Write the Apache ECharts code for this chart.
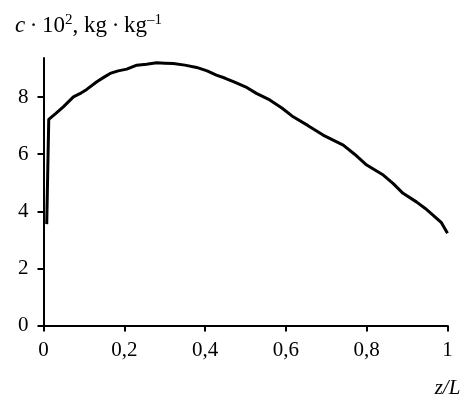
<!DOCTYPE html>
<html>
<head>
    <meta charset="UTF-8">
    <script src="https://cdn.jsdelivr.net/npm/echarts@6/dist/echarts.min.js"></script>
    <style>
        html, body { margin: 0; padding: 0; background: #fff; }
        #chart { width: 467px; height: 400px; }
    </style>
</head>
<body>
    <div id="chart"></div>
    <script>
        // values (z/L, c*10^2)
        var zValues = [0.008, 0.013, 0.03, 0.049, 0.074, 0.09, 0.107, 0.132, 0.15, 0.165, 0.185, 0.206, 0.231,
            0.255, 0.28, 0.3, 0.321, 0.35, 0.379, 0.405, 0.428, 0.45, 0.47, 0.5, 0.527, 0.56, 0.59, 0.618,
            0.655, 0.692, 0.742, 0.77, 0.8, 0.841, 0.865, 0.89, 0.923, 0.945, 0.964, 0.985, 1.0];
        var cValues = [3.55, 7.22, 7.42, 7.66, 8.01, 8.12, 8.27, 8.54, 8.7, 8.83, 8.92, 8.98, 9.12,
            9.15, 9.2, 9.19, 9.18, 9.12, 9.04, 8.92, 8.77, 8.66, 8.54, 8.36, 8.13, 7.9, 7.62, 7.31,
            7.0, 6.67, 6.32, 6.0, 5.62, 5.27, 4.98, 4.63, 4.33, 4.1, 3.87, 3.6, 3.23];
        var yTicks = [0, 2, 4, 6, 8];

        var points = [];
        for (var i = 0; i < zValues.length; i++) {
            points.push([zValues[i], cValues[i]]);
        }

        var font = 'Liberation Serif';
        var chart = echarts.init(document.getElementById('chart'));
        chart.setOption({
            animation: false,
            title: {
                text: '{i|c}{n|\u2009·\u200910}{s|2}{n|, kg\u2009·\u2009kg}{s|–1}',
                left: 10,
                top: 8,
                textStyle: {
                    fontSize: 23,
                    fontWeight: 'normal',
                    fontFamily: font,
                    rich: {
                        i: { fontFamily: font, fontStyle: 'italic', fontWeight: 'normal', fontSize: 23, color: '#000' },
                        n: { fontFamily: font, fontWeight: 'normal', fontSize: 23, color: '#000' },
                        s: { fontFamily: font, fontWeight: 'normal', fontSize: 15, color: '#000', verticalAlign: 'top', padding: [0, 0, 10, 0] }
                    }
                }
            },
            grid: { left: 43.5, right: 19.5, top: 58, bottom: 74.5 },
            xAxis: {
                type: 'value',
                min: 0,
                max: 1,
                interval: 0.2,
                name: 'z/L',
                nameLocation: 'end',
                nameGap: 0,
                nameTextStyle: {
                    fontFamily: font, fontStyle: 'italic', fontSize: 21, color: '#000',
                    align: 'center', verticalAlign: 'top', padding: [52, 0, 0, 0]
                },
                splitLine: { show: false },
                axisLine: { lineStyle: { color: '#000', width: 2 } },
                axisTick: { length: 6, lineStyle: { color: '#000', width: 2 } },
                axisLabel: {
                    fontFamily: font, fontSize: 21, color: '#000', margin: 14,
                    formatter: function (v) { return String(v).replace('.', ','); }
                }
            },
            yAxis: {
                type: 'value',
                min: 0,
                max: 9.37,
                splitLine: { show: false },
                axisLine: { show: true, lineStyle: { color: '#000', width: 2 } },
                axisTick: { show: true, length: 6, customValues: yTicks, lineStyle: { color: '#000', width: 2 } },
                axisLabel: {
                    fontFamily: font, fontSize: 21, color: '#000', margin: 15,
                    customValues: yTicks
                }
            },
            series: [{
                type: 'line',
                data: points,
                showSymbol: false,
                smooth: false,
                lineStyle: { color: '#000', width: 3 }
            }]
        });
    </script>
</body>
</html>
